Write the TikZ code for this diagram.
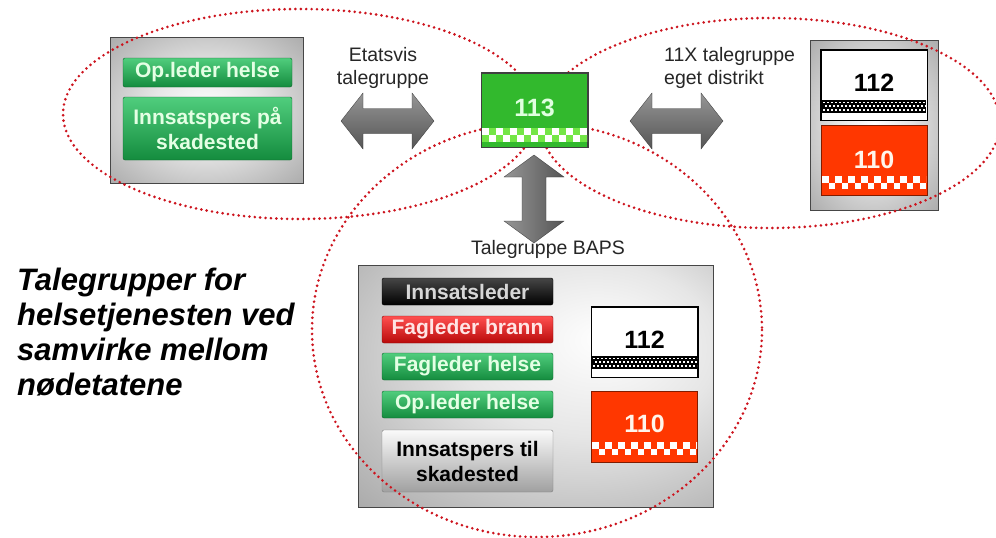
\documentclass[tikz,border=0pt]{standalone}
\usepackage{fontspec}
\setmainfont{Liberation Sans}
\usetikzlibrary{calc}
\definecolor{dotred}{RGB}{205,20,30}
\definecolor{g113}{RGB}{50,185,45}
\definecolor{g113l}{RGB}{115,230,70}
\definecolor{red110}{RGB}{255,55,0}
\definecolor{gtop}{RGB}{80,205,125}
\definecolor{gmid}{RGB}{30,172,82}
\definecolor{gbot}{RGB}{20,140,62}
\definecolor{gtext}{RGB}{228,255,228}
\definecolor{rtop}{RGB}{255,80,80}
\definecolor{rmid}{RGB}{235,22,22}
\definecolor{rbot}{RGB}{185,10,10}
\definecolor{rtext}{RGB}{255,228,228}
\definecolor{ktop}{RGB}{70,70,70}
\definecolor{ktext}{RGB}{215,215,215}
\definecolor{stop}{RGB}{250,250,250}
\definecolor{smid}{RGB}{225,225,225}
\definecolor{sbot}{RGB}{160,160,160}
\definecolor{arrtop}{RGB}{150,150,150}
\definecolor{arrmid}{RGB}{200,200,200}
\definecolor{arrbot}{RGB}{85,85,85}
\definecolor{pedge}{RGB}{100,100,100}
\definecolor{pmid}{RGB}{165,165,165}
\definecolor{plight}{RGB}{230,230,230}
\pgfdeclareradialshading{panelrad}{\pgfpoint{0bp}{0bp}}{color(0bp)=(white);color(14bp)=(plight);color(38bp)=(pmid);color(50bp)=(pedge);color(75bp)=(pedge)}
\pgfdeclareradialshading{panelradb}{\pgfpoint{10bp}{10bp}}{color(0bp)=(white);color(18bp)=(plight);color(44bp)=(pmid);color(50bp)=(pmid);color(75bp)=(pmid)}
\newcommand\mychk[5]{%
  \begin{scope}
  \clip (#1,#2) rectangle (#3,#4);
  \foreach \i in {0,...,9}{
    \fill[white] ({#1+2*\i*#5},#2) rectangle ++(#5,#5);
    \fill[white] ({#1+(2*\i+1)*#5},{#2+#5}) rectangle ++(#5,#5);
  }
  \end{scope}}
\newcommand\mydots[4]{%
  \begin{scope}
  \clip (#1,#2) rectangle (#3,#4);
  \foreach \i in {0,...,27}{
    \foreach \j in {0,1,2}{
      \fill[white] ({#1+1+\i*4+mod(\j,2)*2},{#2+1.5+\j*3.7}) rectangle ++(1.6,1.6);
    }
  }
  \end{scope}}
\tikzset{
  dotline/.style={draw=dotred, line width=2.9pt, line cap=round, dash pattern=on 0pt off 5.4pt},
  panelbox/.style={rectangle, inner sep=0pt, shading=panelrad, draw=pedge!70!black, line width=0.5pt},
  btn/.style={rectangle, rounded corners=2pt, inner sep=0pt, minimum width=171pt, align=center,
    font=\fontsize{21}{23}\selectfont\bfseries, line width=0.4pt},
  gbtn/.style={btn, top color=gtop, middle color=gmid, bottom color=gbot, draw=gbot!70!black, text=gtext},
  rbtn/.style={btn, top color=rtop, middle color=rmid, bottom color=rbot, draw=rbot!70!black, text=rtext},
  kbtn/.style={btn, top color=ktop, middle color=black, bottom color=black, draw=black, text=ktext},
  sbtn/.style={btn, top color=stop, middle color=smid, bottom color=sbot, draw=gray, text=black},
  numbox/.style={rectangle, inner sep=0pt, minimum width=106pt, minimum height=70pt, line width=0.6pt},
  digits/.style={font=\fontsize{25}{25}\selectfont\bfseries, inner sep=0pt},
  lbl/.style={font=\fontsize{19.5}{23.5}\selectfont, inner sep=0pt, text=black!85},
}
\begin{document}
\begin{tikzpicture}[x=1pt,y=-1pt]
\useasboundingbox (0,0) rectangle (996,538);
\fill[white] (0,0) rectangle (996,538);

% ---- left panel
\node[panelbox, minimum width=193pt, minimum height=146pt] (lpanel) at (206.5,110) {};
\node[gbtn, minimum width=169pt, minimum height=29pt] (lop) at (207.5,72.5) {Op.leder helse};
\node[gbtn, minimum width=169pt, minimum height=63pt, font=\fontsize{21}{25}\selectfont\bfseries] (linn) at (207.5,128.5) {Innsatspers på\\skadested};

% ---- right panel
\node[panelbox, minimum width=128pt, minimum height=170pt] (rpanel) at (874,125) {};
\node[numbox, fill=white, draw=black] (r112) at (874,85) {};
\fill[black] (822,100) rectangle (926,113);
\mydots{822}{100}{926}{113}
\draw[black, line width=0.6pt] (r112.north west) rectangle (r112.south east);
\node[digits, text=black] (r112t) at (874,82.5) {112};
\node[numbox, fill=red110, draw=red110!50!black] (r110) at (874,160) {};
\fill[red110] (822,176) rectangle (926,188);
\mychk{822}{176}{926}{188}{6.5}
\node[digits, text=white!92!orange] (r110t) at (874,159.5) {110};

% ---- bottom panel
\node[panelbox, shading=panelradb, minimum width=355pt, minimum height=242pt] (bpanel) at (535.5,386) {};
\node[kbtn, minimum height=27pt] (bins) at (467.5,291.5) {Innsatsleder};
\node[rbtn, minimum height=27pt] (bfb) at (467.5,329.5) {Fagleder brann};
\node[gbtn, minimum height=27pt] (bfh) at (467.5,366.5) {Fagleder helse};
\node[gbtn, minimum height=27pt] (bop) at (467.5,404.5) {Op.leder helse};
\node[sbtn, minimum height=62pt, font=\fontsize{21}{25}\selectfont\bfseries] (bist) at (467.5,461) {Innsatspers til\\skadested};
\node[numbox, fill=white, draw=black] (b112) at (644.5,342) {};
\fill[black] (592,356) rectangle (697,369);
\mydots{592}{356}{697}{369}
\draw[black, line width=0.6pt] (b112.north west) rectangle (b112.south east);
\node[digits, text=black] (b112t) at (644.5,340) {112};
\node[numbox, fill=red110, draw=red110!50!black, minimum height=71pt] (b110) at (644.5,426.5) {};
\fill[red110] (592,442) rectangle (697,454);
\mychk{592}{442}{697}{454}{6.5}
\node[digits, text=white!92!orange] (b110t) at (644.5,424) {110};

% ---- block arrows
\shade[top color=arrtop, middle color=arrmid, bottom color=arrbot, draw=gray!45!black, line width=0.3pt]
  (341,121) -- (363,93) -- (363,108.5) -- (412,108.5) -- (412,93) -- (434,121)
  -- (412,149) -- (412,133.5) -- (363,133.5) -- (363,149) -- cycle;
\shade[top color=arrtop, middle color=arrmid, bottom color=arrbot, draw=gray!45!black, line width=0.3pt]
  (630,121) -- (652,93) -- (652,108.5) -- (701,108.5) -- (701,93) -- (723,121)
  -- (701,149) -- (701,133.5) -- (652,133.5) -- (652,149) -- cycle;
\shade[left color=arrtop, middle color=arrmid, right color=arrbot, draw=gray!45!black, line width=0.3pt]
  (534,155) -- (564,177) -- (546,177) -- (546,221) -- (564,221) -- (534,243)
  -- (504,221) -- (522,221) -- (522,177) -- (504,177) -- cycle;

% ---- dotted ellipses
\draw[dotline] (300,114) ellipse [x radius=237, y radius=105];
\draw[dotline] (770,123) ellipse [x radius=230, y radius=105];
\draw[dotline] (537,330) ellipse [x radius=225, y radius=207];

% ---- 113 box
\node[rectangle, inner sep=0pt, minimum width=106pt, minimum height=74pt, fill=g113, draw=black!75, line width=0.6pt] (b113) at (534.5,110) {};
\fill[g113l] (482,128) rectangle (587,142);
\mychk{482}{128}{587}{142}{7}
\draw[black!75, line width=0.6pt] (b113.north west) rectangle (b113.south east);
\node[digits, text=white!88!green] (t113) at (534.5,108) {113};

% ---- labels
\node[lbl, align=center, anchor=north] (etat) at (383,47) {Etatsvis\\talegruppe};
\node[lbl, align=left, anchor=north west] (elfx) at (664,47) {11X talegruppe\\eget distrikt};
\node[lbl, anchor=base] (baps) at (548,254) {Talegruppe BAPS};

% ---- title
\node[anchor=north west, align=left, inner sep=0pt,
      font=\fontsize{31}{35}\selectfont\bfseries\itshape] (title) at (17,268)
  {Talegrupper for\\helsetjenesten ved\\samvirke mellom\\nødetatene};
\end{tikzpicture}
\end{document}
